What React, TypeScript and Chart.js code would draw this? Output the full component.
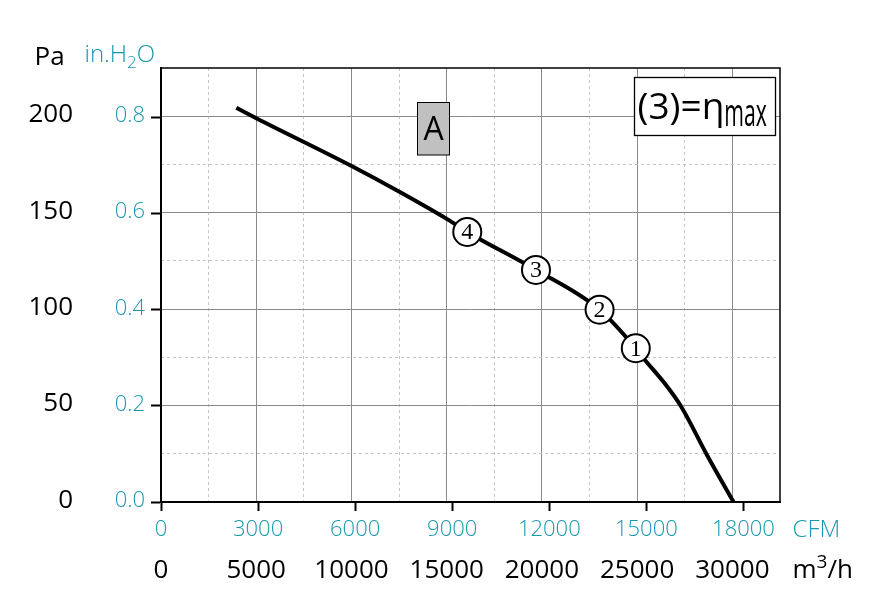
import React, { useEffect, useRef } from 'react';
import { Chart, registerables } from 'chart.js';

Chart.register(...registerables);

// ---- data ----
const curveFlow = [3953, 5003, 10007, 12563, 15068, 16081, 19688, 23027, 24928, 25321, 26565, 27316, 28665, 30062];
const curvePressure = [204.4, 199.0, 174.2, 160.6, 146.4, 140.0, 120.3, 99.7, 79.7, 74.7, 60.0, 49.4, 24.4, 0];

const markerFlow = [24928, 23027, 19688, 16081];
const markerPressure = [79.7, 99.7, 120.3, 140.0];
const markerLabels = ['1', '2', '3', '4'];

const m3hTicks = [0, 5000, 10000, 15000, 20000, 25000, 30000];
const m3hMinorGrid = [2500, 7500, 12500, 17500, 22500, 27500];
const cfmTicks = [0, 3000, 6000, 9000, 12000, 15000, 18000];
const paTicks = [0, 50, 100, 150, 200];
const paMinorGrid = [25, 75, 125, 175];
const inH2OTicks = [0, 0.2, 0.4, 0.6, 0.8];

const flowMax = 32500; // m3/h
const paMax = 225; // Pa
const M3H_PER_CFM = 1.69901;
const PA_PER_INH2O = 249.089;

const TEAL = '#1898af';
const FONT = '"Open Sans", "Noto Sans", sans-serif';
const SERIF = '"Liberation Serif", "DejaVu Serif", serif';
const GRID_SOLID = '#8a8a8a';
const GRID_DASH = '#c4c4c4';

const setTicks = (values: number[]) => (scale: any) => {
  scale.ticks = values.map((v) => ({ value: v }));
};

type Run = { text: string; font: string; dy?: number; sx?: number; color?: string };

function drawRuns(ctx: CanvasRenderingContext2D, x: number, baseline: number, runs: Run[], color: string) {
  let cx = x;
  for (const r of runs) {
    ctx.font = r.font;
    ctx.fillStyle = r.color || color;
    ctx.textAlign = 'left';
    ctx.textBaseline = 'alphabetic';
    const sx = r.sx || 1;
    const w = ctx.measureText(r.text).width * sx;
    ctx.save();
    ctx.translate(cx, baseline + (r.dy || 0));
    ctx.scale(sx, 1);
    ctx.fillText(r.text, 0, 0);
    ctx.restore();
    cx += w;
  }
}

const decorPlugin = {
  id: 'decor',
  afterDatasetsDraw(chart: any) {
    const ctx: CanvasRenderingContext2D = chart.ctx;
    const meta = chart.getDatasetMeta(0);
    ctx.save();
    ctx.fillStyle = '#000';
    ctx.font = `24px ${SERIF}`;
    ctx.textAlign = 'center';
    ctx.textBaseline = 'middle';
    meta.data.forEach((el: any, i: number) => {
      ctx.fillText(markerLabels[i], el.x, el.y + 1);
    });
    ctx.restore();
  },
  afterDraw(chart: any) {
    const ctx: CanvasRenderingContext2D = chart.ctx;
    const a = chart.chartArea;
    ctx.save();
    ctx.strokeStyle = '#000';
    ctx.lineWidth = 1.5;
    ctx.beginPath();
    ctx.moveTo(a.left, a.top);
    ctx.lineTo(a.right, a.top);
    ctx.lineTo(a.right, a.bottom);
    ctx.stroke();

    // "A" box
    ctx.fillStyle = '#c0c0c0';
    ctx.fillRect(417.5, 102.5, 32, 52.5);
    ctx.lineWidth = 1;
    ctx.strokeStyle = '#000';
    ctx.strokeRect(417.5, 102.5, 32, 52.5);
    ctx.fillStyle = '#000';
    ctx.font = `32px ${FONT}`;
    ctx.textAlign = 'center';
    ctx.textBaseline = 'alphabetic';
    ctx.fillText('A', 433.5, 140);

    // (3)=eta_max box
    ctx.fillStyle = '#fff';
    ctx.fillRect(634.5, 77.5, 141, 58);
    ctx.lineWidth = 1.3;
    ctx.strokeRect(634.5, 77.5, 141, 58);
    drawRuns(ctx, 637.5, 119, [
      { text: '(3)=', font: `37px ${FONT}` },
      { text: 'η', font: `37px ${FONT}` },
      { text: 'max', font: `38px ${FONT}`, dy: 7, sx: 0.56 },
    ], '#000');

    // axis titles
    drawRuns(ctx, 34.5, 65, [{ text: 'Pa', font: `26px ${FONT}` }], '#000');
    drawRuns(ctx, 84.5, 62, [
      { text: 'in.H', font: `300 24px ${FONT}` },
      { text: '2', font: `300 17px ${FONT}`, dy: 6 },
      { text: 'O', font: `300 24px ${FONT}` },
    ], TEAL);
    drawRuns(ctx, 792.5, 537, [{ text: 'CFM', font: `300 24px ${FONT}` }], TEAL);
    drawRuns(ctx, 792.5, 578, [
      { text: 'm', font: `26px ${FONT}` },
      { text: '3', font: `19px ${FONT}`, dy: -10 },
      { text: '/h', font: `26px ${FONT}` },
    ], '#000');
    ctx.restore();
  },
};

export default function App() {
  const ref = useRef<HTMLCanvasElement | null>(null);

  useEffect(() => {
    if (!ref.current) return;
    const chart = new Chart(ref.current, {
      type: 'scatter',
      data: {
        datasets: [
          {
            label: 'markers',
            data: markerFlow.map((x, i) => ({ x, y: markerPressure[i] })),
            showLine: false,
            pointRadius: 14,
            pointBorderWidth: 2,
            pointBackgroundColor: '#fff',
            pointBorderColor: '#000',
            order: 0,
          },
          {
            label: 'curve',
            data: curveFlow.map((x, i) => ({ x, y: curvePressure[i] })),
            showLine: true,
            borderColor: '#000',
            borderWidth: 4,
            pointRadius: 0,
            cubicInterpolationMode: 'monotone',
            order: 1,
          },
        ],
      },
      options: {
        animation: false,
        responsive: false,
        devicePixelRatio: 1,
        layout: { padding: { left: 0, top: 68, right: 116, bottom: 13 } },
        plugins: { legend: { display: false }, tooltip: { enabled: false } },
        scales: {
          xDash: {
            type: 'linear',
            position: 'bottom',
            weight: -1,
            min: 0,
            max: flowMax,
            bounds: 'data',
            afterBuildTicks: setTicks(m3hMinorGrid),
            afterFit: (s: any) => { s.height = 0; },
            ticks: { display: false },
            grid: { color: GRID_DASH, lineWidth: 1, drawTicks: false, borderDash: [3, 3] },
            border: { display: false, dash: [3, 3] },
          },
          xCfm: {
            type: 'linear',
            position: 'bottom',
            weight: 0,
            min: 0,
            max: flowMax / M3H_PER_CFM,
            bounds: 'data',
            afterBuildTicks: setTicks(cfmTicks),
            afterFit: (s: any) => { s.height = 44; },
            ticks: {
              color: TEAL,
              font: { family: FONT, size: 22, weight: '300' },
              padding: 6,
              autoSkip: false,
              maxRotation: 0,
              minRotation: 0,
              callback: (v: any) => String(v),
            },
            grid: { drawOnChartArea: false, drawTicks: true, tickLength: 9, tickWidth: 2, tickColor: '#000' },
            border: { display: true, color: '#000', width: 2 },
          },
          x: {
            type: 'linear',
            position: 'bottom',
            weight: 1,
            min: 0,
            max: flowMax,
            bounds: 'data',
            afterBuildTicks: setTicks(m3hTicks),
            afterFit: (s: any) => { s.height = 44; },
            ticks: {
              color: '#000',
              font: { family: FONT, size: 26 },
              padding: 9,
              autoSkip: false,
              maxRotation: 0,
              minRotation: 0,
              callback: (v: any) => String(v),
            },
            grid: { color: GRID_SOLID, lineWidth: 1, drawTicks: false },
            border: { display: false },
          },
          yDash: {
            type: 'linear',
            position: 'left',
            weight: -1,
            min: 0,
            max: paMax,
            bounds: 'data',
            afterBuildTicks: setTicks(paMinorGrid),
            afterFit: (s: any) => { s.width = 0; },
            ticks: { display: false },
            grid: { color: GRID_DASH, lineWidth: 1, drawTicks: false, borderDash: [3, 3] },
            border: { display: false, dash: [3, 3] },
          },
          yIn: {
            type: 'linear',
            position: 'left',
            weight: 0,
            min: 0,
            max: paMax / PA_PER_INH2O,
            bounds: 'data',
            afterBuildTicks: setTicks(inH2OTicks),
            afterFit: (s: any) => { s.width = 81; },
            ticks: {
              color: TEAL,
              font: { family: FONT, size: 22, weight: '300', lineHeight: '3px' },
              padding: 6,
              autoSkip: false,
              callback: (v: any) => [Number(v).toFixed(1), ''],
            },
            grid: { drawOnChartArea: false, drawTicks: true, tickLength: 10, tickWidth: 2, tickColor: '#000' },
            border: { display: true, color: '#000', width: 2 },
          },
          y: {
            type: 'linear',
            position: 'left',
            weight: 1,
            min: 0,
            max: paMax,
            bounds: 'data',
            afterBuildTicks: setTicks(paTicks),
            afterFit: (s: any) => { s.width = 80; },
            ticks: {
              color: '#000',
              font: { family: FONT, size: 26, lineHeight: '3px' },
              padding: 7,
              autoSkip: false,
              callback: (v: any) => [String(v), ''],
            },
            grid: { color: GRID_SOLID, lineWidth: 1, drawTicks: false },
            border: { display: false },
          },
        },
      } as any,
      plugins: [decorPlugin],
    });
    return () => chart.destroy();
  }, []);

  return (
    <div style={{ position: 'absolute', left: 0, top: 0, width: 896, height: 603, background: '#fff' }}>
      <canvas ref={ref} width={896} height={603} style={{ display: 'block' }} />
    </div>
  );
}
